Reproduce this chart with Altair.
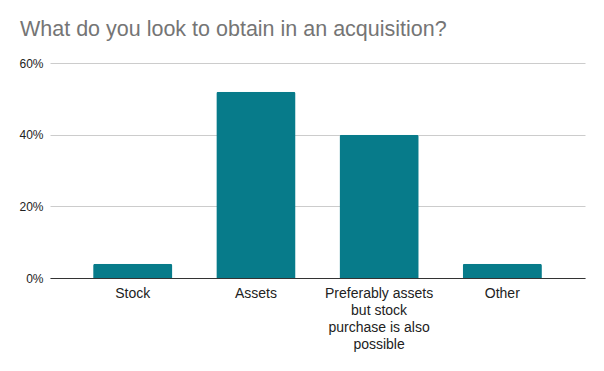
import altair as alt
import pandas as pd

categories = ["Stock", "Assets", "Preferably assets but stock purchase is also possible", "Other"]
shares = [0.04, 0.52, 0.40, 0.04]

df = pd.DataFrame({"category": categories, "share": shares})

label_expr = (
    "datum.value == 'Preferably assets but stock purchase is also possible' ? "
    "['Preferably assets', 'but stock', 'purchase is also', 'possible'] : datum.label"
)

chart = (
    alt.Chart(df)
    .mark_bar(color="#077b8a", cornerRadiusTopLeft=2, cornerRadiusTopRight=2)
    .encode(
        x=alt.X(
            "category:N",
            sort=categories,
            title=None,
            scale=alt.Scale(paddingInner=0.357, paddingOuter=0.35),
            axis=alt.Axis(
                labelAngle=0,
                labelFontSize=14,
                labelLineHeight=17,
                labelColor="#222222",
                labelFont="Arial",
                labelPadding=8,
                ticks=False,
                domainColor="#333333",
                domainWidth=1,
                labelExpr=label_expr,
                labelLimit=200,
            ),
        ),
        y=alt.Y(
            "share:Q",
            title=None,
            scale=alt.Scale(domain=[0, 0.6]),
            axis=alt.Axis(
                values=[0, 0.2, 0.4, 0.6],
                format=".0%",
                labelFontSize=12,
                labelColor="#222222",
                labelFont="Arial",
                labelPadding=7,
                ticks=False,
                domain=False,
                gridColor="#cccccc",
            ),
        ),
    )
    .properties(
        width=535,
        height=215,
        autosize=alt.AutoSizeParams(type="none"),
        padding={"left": 42, "top": 55, "right": 10, "bottom": 80},
        title=alt.TitleParams(
            "What do you look to obtain in an acquisition?",
            anchor="start",
            frame="group",
            dx=-30,
            offset=17,
            fontSize=21.5,
            fontWeight="normal",
            font="Arial",
            color="#757575",
        ),
    )
    .configure_view(stroke=None)
)

chart.save("out.html", embed_options={"renderer": "svg", "actions": False})
